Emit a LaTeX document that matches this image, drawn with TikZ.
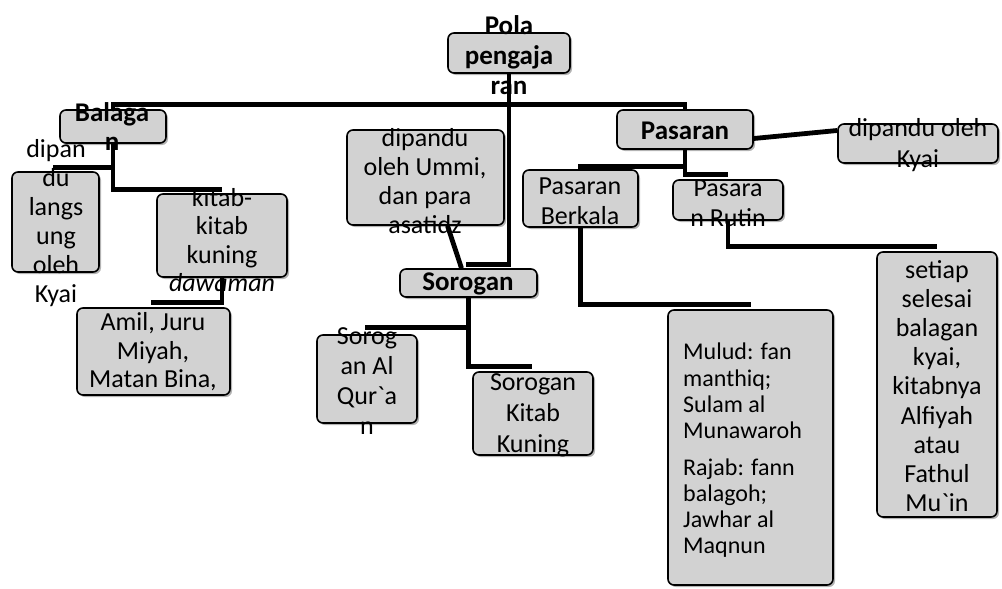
\documentclass[tikz,border=0pt]{standalone}
\usepackage{fontspec}
\setmainfont{Carlito}
\usetikzlibrary{calc,shadows}
\definecolor{boxgray}{RGB}{210,210,210}
\tikzset{
  box/.style={draw=black, line width=1.6pt, rounded corners=6pt, fill=boxgray, inner sep=0pt,
    drop shadow={shadow xshift=2pt, shadow yshift=-2pt, fill=black!50, opacity=0.6}},
  conn/.style={draw=black, line width=4.8pt},
  lbl/.style={inner sep=0pt, align=center, font=\fontsize{26}{#1}\selectfont},
  lbl/.default=28,
  blbl/.style={inner sep=0pt, align=center, font=\fontsize{27}{#1}\selectfont\bfseries},
  blbl/.default=30,
}
\begin{document}
\begin{tikzpicture}[x=1pt,y=-1pt]
\useasboundingbox (0,0) rectangle (1002,589);
% boxes
\node[box, minimum width=122pt, minimum height=40pt] (pola) at (509,53) {};
\node[box, minimum width=106pt, minimum height=33pt] (balagan) at (113,126.5) {};
\node[box, minimum width=87pt, minimum height=100pt] (langsung) at (55.5,222) {};
\node[box, minimum width=130pt, minimum height=83pt] (kitab) at (222,235.5) {};
\node[box, minimum width=153pt, minimum height=87pt] (amil) at (153.5,351.5) {};
\node[box, minimum width=157pt, minimum height=95pt] (ummi) at (425.5,177.5) {};
\node[box, minimum width=137pt, minimum height=28pt] (sorogan) at (468.5,283) {};
\node[box, minimum width=100pt, minimum height=88pt] (quran) at (367,379) {};
\node[box, minimum width=120pt, minimum height=83pt] (kkuning) at (533,413.5) {};
\node[box, minimum width=136pt, minimum height=39pt] (pasaran) at (685,129.5) {};
\node[box, minimum width=160pt, minimum height=39pt] (kyai) at (918,143.5) {};
\node[box, minimum width=115pt, minimum height=57pt] (berkala) at (580.5,198.5) {};
\node[box, minimum width=110pt, minimum height=40pt] (rutin) at (728,200) {};
\node[box, minimum width=165pt, minimum height=275pt] (mulud) at (750.5,447.5) {};
\node[box, minimum width=120pt, minimum height=265pt] (setiap) at (937,384.5) {};
% texts
\node[blbl=30] (tpola) at (509,55) {Pola\\pengaja\\ran};
\node[blbl=29] (tbalagan) at (112,127) {Balaga\\n};
\node[lbl=29] (tlangsung) at (56,223) {dipan\\du\\langs\\ung\\oleh\\Kyai};
\node[lbl=28.5] (tkitab) at (222,240) {kitab-\\kitab\\kuning\\\textit{dawaman}};
\node[lbl=28.5] (tamil) at (153,352) {Amil, Juru\\Miyah,\\Matan Bina,};
\node[lbl=29] (tummi) at (425,181) {dipandu\\oleh Ummi,\\dan para\\asatidz};
\node[blbl] (tsorogan) at (468,284) {Sorogan};
\node[lbl=30] (tquran) at (367,381) {Sorog\\an Al\\Qur\textasciigrave a\\n};
\node[lbl=31] (tkkuning) at (533,415) {Sorogan\\Kitab\\Kuning};
\node[blbl] (tpasaran) at (685,131) {Pasaran};
\node[lbl=31] (tkyai) at (918,145) {dipandu oleh\\Kyai};
\node[lbl=30] (tberkala) at (580,201) {Pasaran\\Berkala};
\node[lbl=30] (trutin) at (728,203) {Pasara\\n Rutin};
\node[lbl=29.2] (tsetiap) at (937,386) {setiap\\selesai\\balagan\\kyai,\\kitabnya\\Alfiyah\\atau\\Fathul\\Mu\textasciigrave in};
\node[inner sep=0pt, align=left, font=\fontsize{24}{26.3}\selectfont, anchor=north west] (tmulud) at (683,343)
  {Mulud: fan\\manthiq;\\Sulam al\\Munawaroh\\[10pt]Rajab: fann\\balagoh;\\Jawhar al\\Maqnun};
% connectors
\draw[conn] (balagan.north) -- ++(0,-5) -| (pasaran.north);
\draw[conn] (pola.south) |- ($(sorogan.north)+(-3,-4)$);
\draw[conn] ($(ummi.south)+(22,0)$) -- ($(sorogan.north)+(-7,0)$);
\draw[conn] (balagan.south) |- ($(langsung.north)+(-3,-4)$);
\draw[conn] (balagan.south) |- ($(kitab.north)+(0,-4)$);
\draw[conn] (kitab.south) |- ($(amil.north)+(-3,-5)$);
\draw[conn] (sorogan.south) |- ($(quran.north)+(-2,-7)$);
\draw[conn] (sorogan.south) |- ($(kkuning.north)+(-1,-5)$);
\draw[conn] (pasaran.south) |- ($(berkala.north)+(-3,-3)$);
\draw[conn] (pasaran.south) |- ($(rutin.north)+(0,-5)$);
\draw[conn] ($(pasaran.east)+(0,9)$) -- ($(kyai.west)+(0,-13)$);
\draw[conn] (berkala.south) |- ($(mulud.north)+(0,-5)$);
\draw[conn] (rutin.south) |- ($(setiap.north)+(0,-5)$);
\end{tikzpicture}
\end{document}
